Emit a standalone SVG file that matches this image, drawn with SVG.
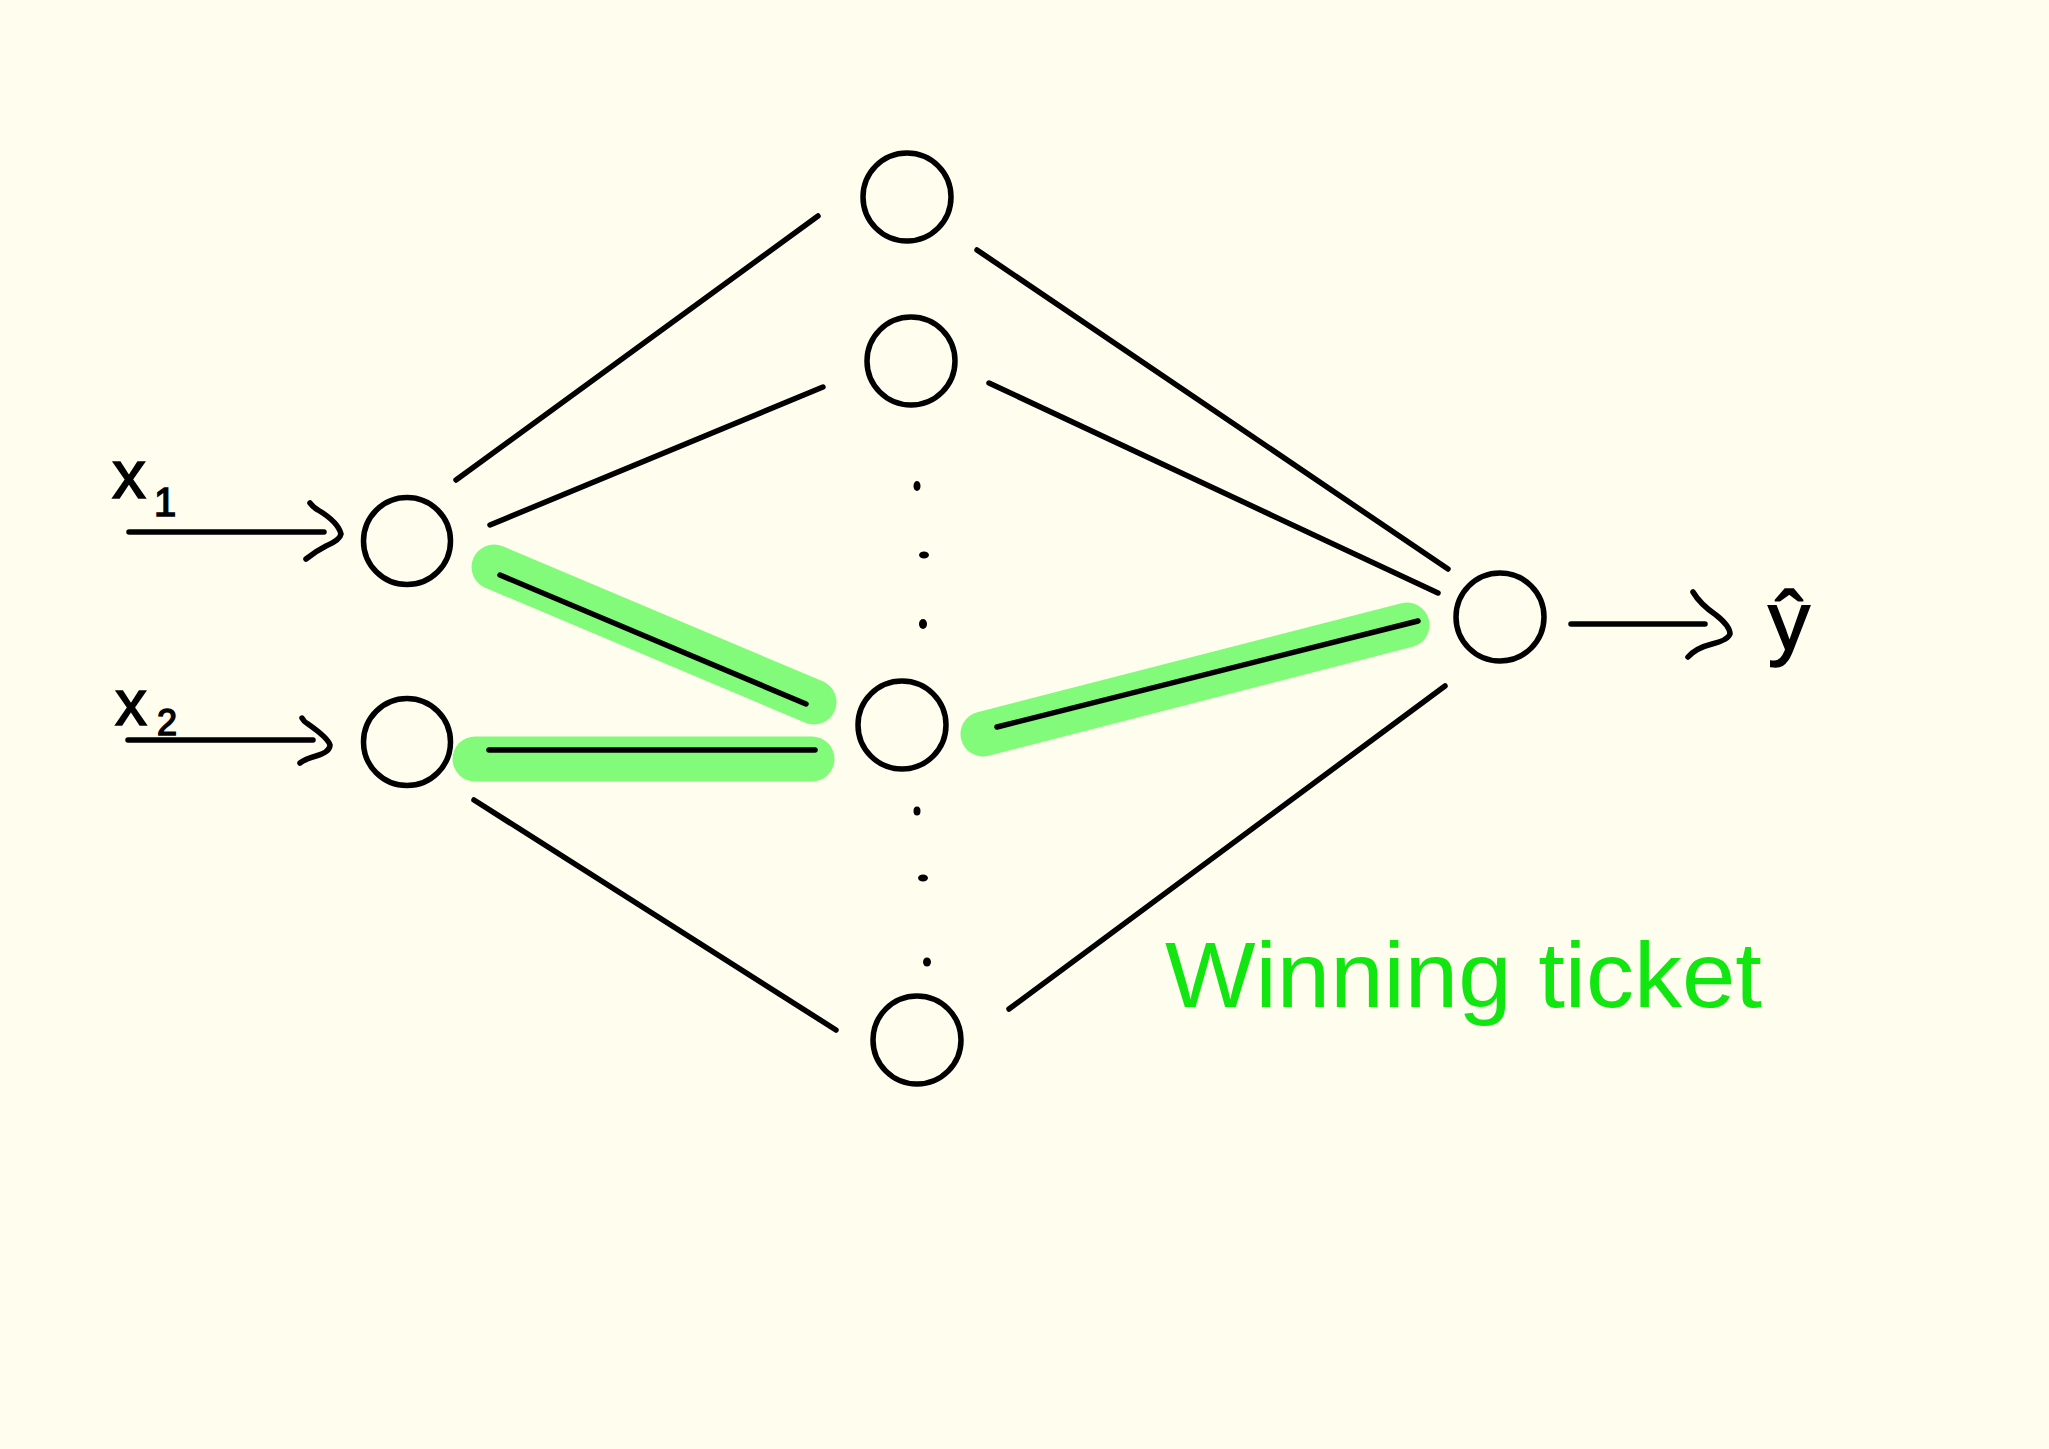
<svg xmlns="http://www.w3.org/2000/svg" width="2049" height="1449" viewBox="0 0 2049 1449">
<style>
.node{fill:none;stroke:#000;stroke-width:5.5}
.edge{fill:none;stroke:#000;stroke-width:5.5;stroke-linecap:round;stroke-linejoin:round}
.hl{fill:none;stroke:#82fb7a;stroke-width:45;stroke-linecap:round}
.dot{fill:#000}
.lbl{font-family:"Liberation Sans",Arial,sans-serif;fill:#000;stroke:#000;stroke-width:1.5}
.win{font-family:"Liberation Sans",Arial,sans-serif;fill:#11e611}
</style>
<rect width="2049" height="1449" fill="#fffdee"/>
<g id="highlights">
<line class="hl" x1="494" y1="567" x2="814" y2="702"/>
<line class="hl" x1="475" y1="759" x2="812" y2="759"/>
<line class="hl" x1="983" y1="734" x2="1407" y2="625"/>
</g>
<g id="connectors">
<line class="edge" x1="456" y1="480" x2="818" y2="216"/>
<line class="edge" x1="490" y1="525" x2="823" y2="387"/>
<line class="edge" x1="500" y1="575" x2="806" y2="704"/>
<line class="edge" x1="489" y1="750" x2="815" y2="750"/>
<line class="edge" x1="474" y1="800" x2="836" y2="1030"/>
<line class="edge" x1="977" y1="250" x2="1448" y2="569"/>
<line class="edge" x1="989" y1="383" x2="1438" y2="593"/>
<line class="edge" x1="997" y1="727" x2="1418" y2="621"/>
<line class="edge" x1="1009" y1="1009" x2="1445" y2="686"/>
<line class="edge" x1="129" y1="532" x2="324" y2="532"/>
<path class="edge" d="M310,503 Q314,508 318,510 Q338,522 341,534 Q340,540 326,546 Q316,551 306,559"/>
<line class="edge" x1="128" y1="740" x2="313" y2="740"/>
<path class="edge" d="M302,718 Q304,722 308,724 Q328,738 330,745 Q330,752 316,756 Q305,759 300,763"/>
<line class="edge" x1="1571" y1="624" x2="1705" y2="624"/>
<path class="edge" d="M1693,592 Q1700,604 1716,615 Q1730,626 1730,634 Q1728,640 1712,644 Q1696,648 1688,657"/>
</g>
<g id="dots">
<ellipse class="dot" cx="917" cy="486" rx="3.5" ry="5"/>
<ellipse class="dot" cx="924" cy="555" rx="5" ry="3.5"/>
<ellipse class="dot" cx="923" cy="624" rx="4" ry="5"/>
<ellipse class="dot" cx="917" cy="811" rx="3.5" ry="4.5"/>
<ellipse class="dot" cx="923" cy="878" rx="5" ry="3.5"/>
<ellipse class="dot" cx="927" cy="962" rx="4" ry="4.5"/>
</g>
<g id="node-x1"><circle class="node" cx="407" cy="541" r="43.5"/></g>
<g id="node-x2"><circle class="node" cx="407" cy="742" r="43.5"/></g>
<g id="node-h1"><circle class="node" cx="907" cy="197" r="44"/></g>
<g id="node-h2"><circle class="node" cx="911" cy="361" r="44"/></g>
<g id="node-h3"><circle class="node" cx="902" cy="725" r="44"/></g>
<g id="node-h4"><circle class="node" cx="917" cy="1040" r="44"/></g>
<g id="node-y"><circle class="node" cx="1500" cy="617" r="44"/></g>
<g id="labels">
<text class="lbl" x="112" y="498" font-size="68">x</text>
<text class="lbl" x="154" y="516" font-size="40">1</text>
<text class="lbl" x="115" y="725" font-size="64">x</text>
<text class="lbl" x="157" y="735" font-size="36">2</text>
<text class="lbl" x="1768" y="650" font-size="84">ŷ</text>
<text class="win" x="1165" y="1007" font-size="92" textLength="597" lengthAdjust="spacingAndGlyphs">Winning ticket</text>
</g>
</svg>
